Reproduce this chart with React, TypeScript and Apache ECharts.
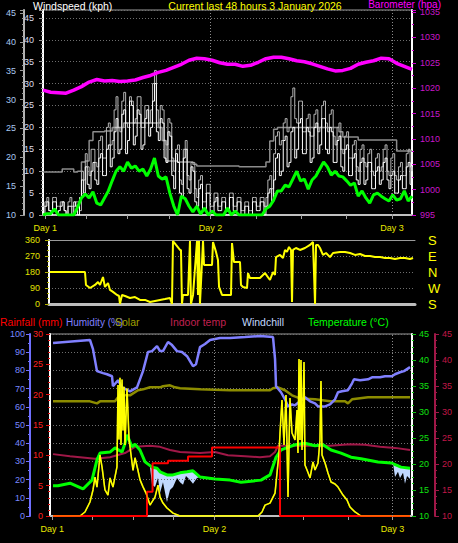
import React, { useEffect, useRef } from 'react';
import * as echarts from 'echarts';

const FONT = '"Liberation Sans", Arial, Helvetica, sans-serif';

const chartTitle = 'Current last 48 hours 3 January 2026';
const dayLabels = ['Day 1', 'Day 2', 'Day 3'];
const dayHours = [0.3, 21.8, 45.4];
const quarterDayHours = [0.3, 5.6, 11.0, 16.4, 21.8, 27.7, 33.6, 39.5, 45.4];
const compassLabels: Record<number, string> = { 0: 'S', 90: 'W', 180: 'N', 270: 'E', 360: 'S' };

// ---------- top panel ----------
// half-hourly average wind speed, kph
const windAverage = [
  0, 0.3, 0.3, 1.4, 0, 0, 0, 0, 0, 1.8,
  3.9, 4.8, 3.9, 5.3, 2.7, 2.3, 3.9, 5.5, 7.8, 10,
  11, 10, 12.1, 10.7, 11.2, 10, 10.5, 8.9, 10.5, 13,
  8.9, 8.2, 8.7, 5, 2.1, 0, 4.3, 3.7, 2, 0.7,
  2, 0.2, 1.6, 0, 0.9, 0, 0, 0, 1.6, 0,
  0.9, 0, 0, 0, 0, 0, 0, 0, 1.4, 2,
  3.4, 5.5, 5.5, 6.8, 6.4, 8.2, 10, 7.8, 8.2, 5.9,
  8, 8.9, 10.5, 12.1, 11, 9.1, 10, 8.9, 8.7, 7.8,
  6.8, 7.3, 4.3, 5.5, 3.9, 2.7, 4.6, 5, 4.3, 3.7,
  3.2, 4.6, 3.4, 3.7, 5.5, 3.2, 4.3,
];
// quarter-hourly wind speed, kph
const windSpeed = [
  0, 2, 3, 1, 0, 3, 3, 0, 1, 2, 3, 1, 0, 2, 2, 0, 3, 2, 0, 4,
  8, 5, 11, 7, 6, 10, 12, 8, 7, 13, 14, 9, 9, 15, 16, 11, 13, 19, 22, 14,
  15, 23, 24, 14, 17, 26, 25, 16, 18, 24, 23, 15, 16, 22, 24, 18, 20, 26, 30, 19,
  17, 22, 21, 13, 12, 19, 18, 9, 6, 14, 12, 5, 4, 13, 15, 6, 5, 11, 10, 3,
  2, 6, 7, 1, 1, 5, 5, 0, 0, 3, 4, 1, 1, 3, 3, 0, 0, 4, 4, 1,
  1, 3, 3, 0, 0, 2, 2, 0, 0, 3, 3, 1, 1, 3, 3, 0, 2, 5, 6, 3,
  8, 13, 14, 9, 10, 17, 18, 11, 12, 19, 20, 13, 15, 21, 22, 14, 14, 20, 19, 12,
  13, 20, 21, 14, 16, 22, 22, 15, 14, 20, 19, 12, 12, 17, 18, 11, 10, 15, 16, 9,
  9, 13, 14, 8, 7, 12, 13, 7, 8, 12, 12, 6, 6, 10, 11, 7, 8, 12, 13, 8,
  6, 9, 10, 5, 5, 8, 9, 6, 6, 11, 12, 7, 7,
];
// quarter-hourly gust, kph
const windGust = [
  2, 3, 4, 1, 1, 4, 4, 2, 2, 3, 3, 1, 0, 3, 4, 2, 2, 3, 3, 1,
  10, 8, 14, 11, 9, 15, 15, 12, 11, 17, 18, 13, 13, 20, 21, 16, 17, 24, 27, 20,
  19, 26, 28, 21, 20, 27, 26, 21, 22, 27, 27, 20, 20, 25, 25, 21, 24, 30, 33, 24,
  21, 25, 24, 17, 16, 22, 21, 13, 10, 15, 16, 8, 7, 15, 17, 9, 8, 12, 12, 6,
  4, 8, 9, 3, 3, 7, 7, 2, 2, 5, 5, 2, 2, 4, 4, 1, 1, 5, 5, 2,
  2, 4, 4, 1, 1, 3, 3, 1, 1, 4, 4, 2, 2, 4, 4, 2, 4, 8, 9, 6,
  14, 18, 19, 16, 17, 21, 22, 19, 20, 27, 29, 22, 21, 26, 26, 19, 19, 22, 23, 18,
  18, 23, 24, 19, 20, 25, 26, 21, 19, 23, 24, 18, 16, 20, 21, 15, 14, 18, 19, 13,
  13, 16, 17, 11, 10, 15, 16, 12, 11, 14, 15, 10, 9, 13, 14, 10, 11, 15, 16, 10,
  9, 13, 14, 9, 8, 11, 12, 9, 9, 14, 15, 11, 10,
];
// half-hourly max gust, kph
const windMaxGust = [
  9.8, 9.8, 9.8, 9.8, 9.8, 10.5, 10.5, 10.5, 9.8, 10,
  12.1, 12.3, 17, 19, 19, 19, 19.2, 19.2, 20, 20,
  20, 21, 21, 21, 21, 21, 21, 21, 21, 21,
  20, 17, 12.3, 12.3, 12.3, 12.1, 12.1, 12.1, 12.1, 11.6,
  11.2, 11.2, 11.2, 11.2, 11.2, 11.2, 11.2, 11.2, 11.2, 11.2,
  11.2, 11, 11, 11, 11, 11, 11, 11, 12.1, 16.9,
  19.6, 20, 20, 20, 20, 20, 20, 20, 20, 20,
  20, 20, 20, 20, 20, 20, 20, 19, 17.8, 17.8,
  17.8, 17.8, 17.1, 17.1, 17.1, 17.1, 17.1, 17.1, 17.1, 17.1,
  17.1, 17.1, 14.6, 14.6, 14.6, 14.6, 14.6,
];
// hourly, hPa
const barometer = [
  1019.6, 1019.2, 1019.1, 1019.0, 1019.6, 1020.3, 1021.2, 1021.7, 1021.4, 1021.5,
  1021.3, 1021.4, 1021.6, 1022.1, 1022.5, 1023.1, 1023.5, 1024.1, 1024.7, 1025.5,
  1025.9, 1025.8, 1025.5, 1025.0, 1024.7, 1024.7, 1024.3, 1024.5, 1025.1, 1025.8,
  1026.1, 1026.1, 1025.8, 1025.4, 1025.2, 1024.8, 1024.3, 1023.8, 1023.4, 1023.5,
  1023.9, 1024.7, 1025.1, 1025.4, 1025.9, 1025.8, 1024.9, 1024.3, 1023.7,
];

// ---------- middle panel (wind direction, degrees) ----------
const directionHours = [
  0.13, 4.72, 4.85, 5.38, 6.03, 6.43, 6.69, 7.08, 7.34, 7.74,
  8.0, 8.39, 8.92, 9.18, 9.31, 9.57, 9.97, 10.62, 11.28, 11.93,
  12.59, 13.25, 13.9, 14.56, 15.21, 15.87, 16.13, 16.26, 16.66, 17.18,
  17.31, 17.44, 17.57, 18.23, 18.49, 18.62, 18.89, 19.41, 19.54, 19.67,
  19.8, 20.2, 20.33, 21.38, 21.51, 21.9, 22.16, 22.3, 22.69, 23.87,
  24.0, 24.26, 25.05, 25.18, 25.44, 25.97, 26.1, 26.36, 27.67, 28.33,
  28.98, 29.38, 29.64, 29.77, 30.3, 30.69, 30.95, 31.21, 31.48, 31.74,
  31.87, 32.0, 32.39, 32.92, 33.57, 34.23, 34.62, 34.89, 35.02, 35.28,
  35.54, 35.93, 36.33, 36.85, 37.25, 38.16, 38.82, 39.48, 40.13, 40.79,
  41.44, 42.1, 42.75, 43.41, 44.07, 44.72, 45.38, 46.03, 46.69, 47.34,
  47.74,
];
const directionDegrees = [
  180, 180, 107, 90, 107, 124, 107, 152, 96, 118,
  79, 68, 51, 45, 0, 51, 45, 34, 39, 23,
  23, 11, 17, 23, 28, 34, 0, 354, 332, 304,
  304, 0, 51, 51, 354, 0, 51, 354, 51, 354,
  0, 354, 219, 219, 349, 293, 248, 96, 51, 51,
  343, 236, 236, 107, 96, 90, 174, 146, 146, 174,
  135, 180, 163, 264, 276, 259, 304, 293, 321, 304,
  11, 304, 315, 304, 315, 332, 349, 0, 332, 332,
  315, 276, 287, 264, 287, 293, 293, 287, 276, 281,
  270, 270, 264, 264, 259, 259, 253, 259, 259, 253,
  259,
];

// ---------- bottom panel ----------
const humidityHours = [
  0.4, 5.3, 5.7, 6.23, 7.03, 7.56, 8.22, 8.35, 9.02, 9.55,
  10.61, 11.54, 12.33, 12.99, 13.53, 14.19, 14.59, 14.98, 15.65, 16.18,
  16.84, 17.5, 18.17, 18.56, 18.96, 19.36, 19.89, 20.55, 21.22, 22.54,
  23.87, 25.86, 27.85, 29.57, 29.84, 29.97, 30.63, 31.16, 31.56, 32.09,
  32.49, 33.15, 33.81, 34.48, 35.14, 35.54, 36.47, 37.13, 37.79, 38.19,
  38.72, 39.51, 40.05, 40.31, 41.11, 42.17, 42.7, 43.76, 44.42, 45.35,
  45.75, 46.41, 46.94, 47.74,
];
const humidityValues = [
  95.0, 96.7, 91.7, 79.6, 78.5, 77.9, 76.8, 71.3, 74.6, 70.7,
  68.5, 70.7, 79.6, 90.1, 90.6, 93.4, 90.6, 90.6, 95.6, 93.9,
  90.6, 90.1, 87.8, 85.1, 82.3, 83.4, 92.8, 94.5, 96.7, 97.8,
  97.8, 98.3, 98.9, 98.3, 86.2, 71.3, 68.0, 64.1, 60.2, 61.3,
  60.8, 63.0, 65.2, 63.0, 61.9, 60.2, 60.2, 61.3, 64.1, 68.0,
  68.5, 69.1, 72.9, 75.1, 74.6, 75.1, 76.2, 76.2, 76.8, 76.8,
  77.9, 79.0, 79.6, 81.8,
];
const indoorHumidityHours = [
  0.4, 5.3, 6.23, 6.63, 8.62, 9.02, 9.95, 10.61, 11.67, 12.33,
  13.26, 14.59, 14.98, 15.91, 16.58, 17.24, 19.89, 23.87, 29.17, 29.57,
  30.23, 31.16, 32.09, 33.15, 35.14, 37.13, 39.12, 39.51, 40.05, 42.17,
  47.74,
];
const indoorHumidityValues = [
  63.0, 63.0, 61.9, 63.0, 63.0, 65.2, 66.3, 66.3, 69.1, 69.6,
  70.7, 70.7, 71.3, 71.8, 70.7, 70.2, 69.6, 69.1, 69.1, 70.2,
  70.7, 69.1, 66.3, 64.6, 64.1, 63.0, 63.0, 61.9, 64.1, 65.2,
  65.2,
];
const indoorTempHours = [
  0.4, 2.65, 5.97, 7.96, 9.95, 11.27, 13.26, 14.59, 15.91, 17.24,
  19.89, 21.88, 23.6, 25.86, 27.85, 29.17, 29.84, 30.23, 31.82, 37.13,
  39.78, 41.77, 43.76, 45.75, 47.74,
];
const indoorTempValues = [
  21.9, 21.5, 21.0, 21.3, 22.1, 23.3, 23.5, 23.3, 22.7, 22.3,
  22.1, 22.3, 21.7, 21.5, 21.3, 21.5, 22.3, 23.5, 23.5, 23.5,
  23.8, 23.7, 23.3, 23.1, 22.7,
];
const temperatureHours = [
  0.4, 1.06, 2.65, 4.38, 5.57, 6.23, 6.63, 7.96, 8.62, 9.55,
  9.95, 10.21, 10.87, 11.27, 11.93, 12.6, 13.53, 14.19, 14.59, 15.51,
  16.31, 17.24, 18.17, 18.96, 19.89, 21.88, 23.87, 25.33, 27.98, 29.17,
  29.97, 30.63, 32.49, 33.81, 35.14, 36.2, 37.26, 38.59, 39.91, 41.24,
  43.49, 45.22, 46.54, 47.74,
];
const temperatureValues = [
  15.8, 15.8, 16.3, 15.2, 16.9, 20.8, 22.1, 22.3, 23.1, 22.3,
  24.0, 25.6, 23.3, 23.8, 22.7, 20.4, 19.4, 19.2, 18.5, 17.9,
  17.9, 18.3, 18.5, 18.7, 17.5, 17.1, 16.9, 16.5, 16.9, 17.9,
  21.3, 22.7, 23.7, 24.0, 23.5, 23.7, 22.7, 22.1, 21.3, 21.0,
  20.4, 20.2, 19.4, 19.2,
];
// windchill gap: temperature (upper edge) and windchill (lower edge); null = gap
const windchillHours = [
  13.26, 13.53, 13.92, 14.32, 14.59, 14.98, 15.51, 15.91, 16.31, 16.84,
  17.24, 17.64, 18.03, 18.56, 18.96, 19.49, 19.89, 30,
  45.48, 45.75, 46.14, 46.41, 46.81, 47.07, 47.34, 47.74,
];
const windchillTemperature = [
  19.4, 19.4, 19.3, 19.2, 18.5, 18.3, 17.9, 17.9, 17.9, 18.1,
  18.3, 18.4, 18.5, 18.6, 18.7, 18.0, 17.5, null,
  20.2, 20.0, 19.9, 19.6, 19.4, 19.3, 19.3, 19.2,
];
const windchillValues = [
  19.4, 16.0, 15.6, 17.3, 14.4, 16.5, 12.7, 15.0, 15.6, 17.3,
  16.5, 16.0, 17.7, 16.9, 16.2, 17.3, 17.5, null,
  20.2, 17.5, 18.5, 17.3, 18.3, 16.2, 17.7, 17.1,
];
const rainHours = [0.4, 12.86, 13.6, 15.65, 18.3, 21.48, 30.5, 47.74];
const rainValues = [0, 4.0, 8.7, 9.1, 9.8, 11.3, 0, 0];
const solarHours = [
  0.4, 3.98, 4.64, 5.3, 5.7, 5.97, 6.23, 6.63, 6.9, 7.29,
  7.69, 7.96, 8.35, 8.88, 9.02, 9.15, 9.28, 9.41, 9.55, 9.68,
  9.81, 9.95, 10.21, 10.48, 10.61, 11.01, 11.27, 11.67, 11.93, 12.33,
  12.73, 13.26, 13.92, 14.32, 14.59, 14.98, 15.51, 16.31, 17.24,
  27.58, 28.11, 28.51, 29.17, 29.84, 30.1, 30.37, 30.5, 30.76, 31.03,
  31.29, 31.56, 31.82, 32.09, 32.49, 32.75, 32.88, 33.02, 33.15, 33.28,
  33.42, 33.68, 33.81, 34.08, 34.48, 34.87, 35.14, 35.54, 35.8, 35.93,
  36.07, 36.47, 36.86, 37.26, 37.79, 38.19, 38.85, 39.38, 39.78, 40.44,
  41.24, 47.74,
];
const solarValues = [
  0, 0, 2.2, 7.7, 14.3, 21.4, 15.9, 33.5, 26.9, 14.3,
  11.5, 20.9, 15.9, 27, 72, 42, 76, 39, 75, 47,
  71, 39, 70, 42, 38, 25, 32, 25, 20, 16,
  12.6, 6, 10.4, 17, 10.4, 7.1, 4.4, 1.6, 0,
  0, 2.2, 6, 7.1, 12.6, 23.6, 34.6, 45.6, 63.7, 39,
  66.5, 10.4, 64.8, 45.6, 41.8, 58.2, 34.6, 86.3, 41.8, 85.7,
  36.3, 84.6, 28, 25.3, 20.9, 29.7, 25.3, 29.1, 41.8, 74.2,
  33.5, 29.1, 23.6, 18.7, 17.6, 15.9, 11.5, 8.8, 4.9, 2.2,
  0, 0,
];

const everyHours = (vals: number[], step: number) => vals.map((v, i) => [i * step, v]);
const pairs = (hours: number[], vals: (number | null)[]) =>
  hours.map((h, i) => [h, vals[i] === null ? '-' : vals[i]]);

const DOT: any = [1, 2];

function dayFormatter(v: number) {
  const i = dayHours.findIndex((h) => Math.abs(h - v) < 1e-6);
  return i >= 0 ? dayLabels[i] : '';
}

function timeAxis(gridIndex: number, withLabels: boolean, lineWidth = 2, position = 'bottom', color = '#c0c0c0') {
  return {
    type: 'value', gridIndex, min: 0, max: 48, position,
    axisLine: { show: true, onZero: false, lineStyle: { color, width: lineWidth } },
    axisTick: { show: withLabels, customValues: quarterDayHours, length: 4, lineStyle: { color: '#a0a0a0' } },
    axisLabel: {
      show: withLabels, customValues: dayHours, formatter: dayFormatter,
      color: '#e8e800', fontSize: 9, fontFamily: FONT, margin: 8,
    },
    splitLine: { show: false },
  };
}

function valueAxis(o: any) {
  return {
    type: 'value',
    gridIndex: o.grid,
    position: o.position,
    offset: o.offset || 0,
    min: o.min, max: o.max, interval: o.interval,
    axisLine: { show: o.line !== false, onZero: false, lineStyle: { color: o.lineColor, width: 2 } },
    axisTick: { show: o.ticks !== false, length: 4, lineStyle: { color: o.tickColor } },
    minorTick: { show: !!o.minor, splitNumber: o.minor || 2, length: 2, lineStyle: { color: o.tickColor } },
    axisLabel: {
      color: o.labelColor, fontSize: o.fontSize || 9, fontFamily: FONT, margin: o.margin,
      showMaxLabel: o.showMax !== false,
      formatter: o.formatter || ((v: number) => String(v)),
    },
    splitLine: o.split
      ? { show: true, lineStyle: { color: '#6e6e6e', type: DOT, width: 1 } }
      : { show: false },
  };
}

const dayMarkLine = {
  silent: true,
  symbol: ['none', 'none'],
  label: { show: false },
  lineStyle: { color: '#8c8c8c', type: DOT, width: 1 },
  data: dayHours.slice(1).map((h) => ({ xAxis: h })),
};

function line(name: string, x: number, y: number, data: any[], color: string, width: number, extra: any = {}) {
  return {
    name, type: 'line', xAxisIndex: x, yAxisIndex: y, data,
    symbol: 'none', showSymbol: false, silent: true,
    lineStyle: { color, width },
    emphasis: { disabled: true },
    ...extra,
  };
}

function label(text: string, x: number, y: number, fill: string, align = 'left', size = 10.5) {
  return {
    type: 'text', x, y, silent: true,
    style: {
      text, fill, font: `${size}px ${FONT}`,
      align, verticalAlign: 'middle', textAlign: align, textVerticalAlign: 'middle',
    },
  };
}

function buildOption() {
  return {
    animation: false,
    backgroundColor: '#000000',
    textStyle: { fontFamily: FONT },
    grid: [
      { left: 43, top: 10, width: 369, height: 205, show: true, borderColor: '#9a9a9a', borderWidth: 1, backgroundColor: 'transparent' },
      { left: 49, top: 240, width: 366, height: 64, show: false },
      { left: 50, top: 334, width: 362, height: 182, show: true, borderColor: '#9a9a9a', borderWidth: 1, backgroundColor: 'transparent' },
    ],
    xAxis: [
      timeAxis(0, true),
      timeAxis(1, false, 3, 'bottom', '#bdbdbd'),
      timeAxis(2, true),
      timeAxis(1, false, 1, 'top', '#9a9a9a'),
    ],
    yAxis: [
      valueAxis({ grid: 0, position: 'left', min: 0, max: 46.8, interval: 5, lineColor: '#ffffff', tickColor: '#9a9a9a', minor: 5, labelColor: '#dcdcec', margin: 9, showMax: false, split: true }),
      valueAxis({ grid: 0, position: 'left', offset: 19, min: 10, max: 45.5, interval: 5, lineColor: '#b4b4b4', tickColor: '#9a9a9a', minor: 5, labelColor: '#a8c8f0', margin: 8, showMax: false }),
      valueAxis({ grid: 0, position: 'right', min: 995, max: 1035.4, interval: 5, lineColor: '#ffffff', tickColor: '#d000d0', minor: 2, labelColor: '#c818c8', margin: 8, showMax: false }),
      valueAxis({ grid: 1, position: 'left', min: 0, max: 360, interval: 90, lineColor: '#ffffff', tickColor: '#b0b000', minor: 3, labelColor: '#e0e000', margin: 9, split: true }),
      valueAxis({ grid: 1, position: 'right', min: 0, max: 360, interval: 90, line: false, ticks: false, lineColor: '#000', tickColor: '#000', labelColor: '#ffff00', fontSize: 13, margin: 13, formatter: (v: number) => compassLabels[v] ?? '' }),
      valueAxis({ grid: 2, position: 'left', offset: 20, min: 0, max: 100, interval: 10, lineColor: '#7070ff', tickColor: '#7070ff', minor: 2, labelColor: '#7888ff', margin: 5, split: true }),
      valueAxis({ grid: 2, position: 'left', min: 0, max: 30, interval: 5, lineColor: '#ffffff', tickColor: '#e01010', minor: 5, labelColor: '#ff2020', margin: 7 }),
      valueAxis({ grid: 2, position: 'right', min: 10, max: 45, interval: 5, lineColor: '#ffffff', tickColor: '#10c010', minor: 4, labelColor: '#10e010', margin: 7 }),
      valueAxis({ grid: 2, position: 'right', offset: 23, min: 10, max: 45, interval: 5, lineColor: '#a01848', tickColor: '#a01848', minor: 4, labelColor: '#c01848', margin: 7 }),
    ],
    series: [
      // top panel
      line('Max gust', 0, 0, everyHours(windMaxGust, 0.5), '#8c8c8c', 1.5, { step: 'end', markLine: dayMarkLine }),
      line('Gust', 0, 0, everyHours(windGust, 0.25), '#b4b4b4', 1, { step: 'end' }),
      line('Wind speed', 0, 0, everyHours(windSpeed, 0.25), '#ffffff', 1, { step: 'end' }),
      line('Average speed', 0, 0, everyHours(windAverage, 0.5), '#00ff00', 3),
      line('Barometer', 0, 2, everyHours(barometer, 1), '#ff00ff', 3.5),
      // middle panel
      line('Wind direction', 1, 3, pairs(directionHours, directionDegrees), '#ffff00', 2),
      // bottom panel
      line('Windchill', 2, 7, pairs(windchillHours, windchillTemperature), '#c0d8ff', 0, {
        z: -2, connectNulls: false, lineStyle: { width: 0, opacity: 0 },
        areaStyle: { color: '#c0d8ff', opacity: 1, origin: 'start' },
      }),
      line('Windchill floor', 2, 7, pairs(windchillHours, windchillValues), '#000000', 0, {
        z: -1, connectNulls: false, lineStyle: { width: 0, opacity: 0 },
        areaStyle: { color: '#000000', opacity: 1, origin: 'start' },
      }),
      line('Indoor humidity', 2, 5, pairs(indoorHumidityHours, indoorHumidityValues), '#8c8c00', 2.5, { markLine: dayMarkLine }),
      line('Indoor temp', 2, 8, pairs(indoorTempHours, indoorTempValues), '#a01848', 2),
      line('Humidity', 2, 5, pairs(humidityHours, humidityValues), '#8080ff', 2.5),
      line('Temperature', 2, 7, pairs(temperatureHours, temperatureValues), '#00ff00', 3),
      line('Solar', 2, 5, pairs(solarHours, solarValues), '#ffff00', 1.5),
      line('Rainfall', 2, 6, pairs(rainHours, rainValues), '#ff0000', 2, { step: 'end' }),
      line('Solar overlay', 2, 5, pairs(solarHours, solarValues), '#ffff00', 1.5, { lineStyle: { color: '#ffff00', width: 1.5, opacity: 0.5 } }),
    ],
    graphic: [
      label('Windspeed (kph)', 33, 6, '#ffffff'),
      label(chartTitle, 255, 6, '#ffff00', 'center'),
      label('Barometer (hpa)', 441, 4.5, '#ff00ff', 'right', 10),
      label('Rainfall (mm)', 0, 322, '#ff0000'),
      label('Humidity (%)', 66, 322, '#8080ff', 'left', 10),
      label('Solar', 115, 322, '#a0a000'),
      label('Indoor temp', 170, 322, '#c02050'),
      label('Windchill', 242, 322, '#c0d8ff'),
      label('Temperature (°C)', 308, 322, '#00ff00'),
    ],
  };
}

export default function App() {
  const ref = useRef<HTMLDivElement>(null);
  useEffect(() => {
    if (!ref.current) return;
    const chart = echarts.init(ref.current, null, { renderer: 'svg' });
    chart.setOption(buildOption() as any);
    return () => chart.dispose();
  }, []);
  return (
    <div
      ref={ref}
      style={{ position: 'fixed', left: 0, top: 0, width: 458, height: 543, background: '#000' }}
    />
  );
}
